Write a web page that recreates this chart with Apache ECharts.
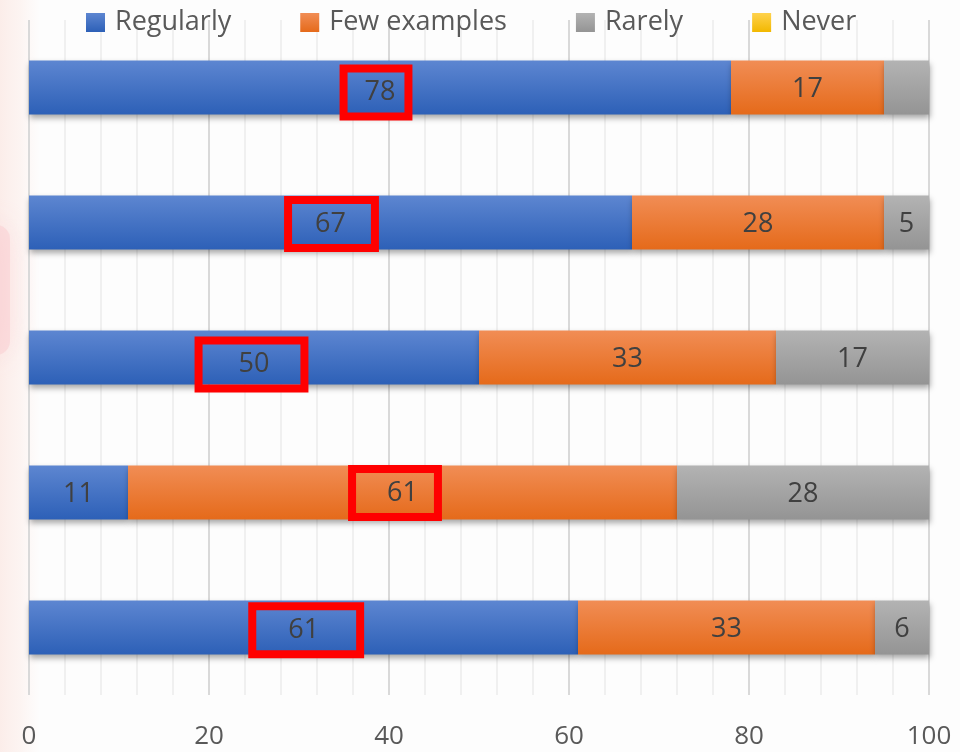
<!DOCTYPE html>
<html>
<head>
<meta charset="utf-8">
<style>
  html, body { margin: 0; padding: 0; background: #fdfdfd; }
  #chart { width: 960px; height: 752px; }
</style>
<script src="https://cdn.jsdelivr.net/npm/echarts@6/dist/echarts.min.js"></script>
</head>
<body>
<div id="chart"></div>
<script>
// Response shares per item, stacked to 100
const categories = ['Item 1', 'Item 2', 'Item 3', 'Item 4', 'Item 5'];
const seriesNames = ['Regularly', 'Few examples', 'Rarely', 'Never'];
const regularly = [78, 67, 50, 11, 61];
const fewExamples = [17, 28, 33, 61, 33];
const rarely = [5, 5, 17, 28, 6];
const never = [0, 0, 0, 0, 0];
const xMin = 0;
const xMax = 100;
const xStep = 20;

// Segments whose value label is left out
const unlabeled = [['Rarely', 0]];

// Segments whose value is boxed in red: [series, index]
const boxed = [['Regularly', 0], ['Regularly', 1], ['Regularly', 2], ['Few examples', 3], ['Regularly', 4]];
// Frame geometry for each boxed label (padding [t, r, b, l] and offset [x, y])
const boxFrames = [
  { padding: [7, 13, 13, 21], offset: [-4, 5] },
  { padding: [11, 29, 9, 27], offset: [1, 1.5] },
  { padding: [5, 35, 15, 40], offset: [-2.5, 7] },
  { padding: [12, 20, 8, 35], offset: [-7.5, 0.5] },
  { padding: [9, 41, 11, 36], offset: [2.7, 2.8] }
];

const FONT = '"Open Sans", "Noto Sans", sans-serif';

function grad(top, bottom) {
  return new echarts.graphic.LinearGradient(0, 0, 0, 1, [
    { offset: 0, color: top },
    { offset: 1, color: bottom }
  ]);
}

const colors = [
  grad('#5d86d1', '#2d60b7'),
  grad('#f18d55', '#e56a1a'),
  grad('#b3b3b3', '#949494'),
  grad('#ffd24d', '#f2b800')
];

const values = [regularly, fewExamples, rarely, never];

function buildData(name, vals) {
  return vals.map(function (v, i) {
    const item = { value: v };
    if (unlabeled.some(function (u) { return u[0] === name && u[1] === i; })) {
      item.label = { show: false };
    }
    const k = boxed.findIndex(function (b) { return b[0] === name && b[1] === i; });
    if (k >= 0) {
      item.label = {
        show: true,
        borderColor: '#ff0000',
        borderWidth: 8,
        padding: boxFrames[k].padding,
        offset: boxFrames[k].offset
      };
    }
    return item;
  });
}

const series = seriesNames.map(function (name, s) {
  return {
    name: name,
    type: 'bar',
    stack: 'total',
    barCategoryGap: '60%',
    data: buildData(name, values[s]),
    itemStyle: {
      color: colors[s],
      shadowColor: 'rgba(0,0,0,0.35)',
      shadowBlur: 6,
      shadowOffsetX: 1,
      shadowOffsetY: 3
    },
    label: {
      show: name !== 'Never',
      position: 'inside',
      offset: [0, 2],
      color: '#404040',
      fontFamily: FONT,
      fontSize: 27,
      lineHeight: 28
    },
    emphasis: { disabled: true }
  };
});

const chart = echarts.init(document.getElementById('chart'), null, { renderer: 'canvas' });

chart.setOption({
  backgroundColor: '#fdfdfd',
  animation: false,
  color: colors,
  graphic: [
    {
      type: 'rect',
      z: -10,
      silent: true,
      shape: { x: 0, y: 0, width: 40, height: 752 },
      style: {
        fill: new echarts.graphic.LinearGradient(1, 0, 0, 0, [
          { offset: 0, color: 'rgba(253,240,236,0)' },
          { offset: 0.5, color: 'rgba(252,238,234,0.6)' },
          { offset: 1, color: 'rgba(251,234,230,0.85)' }
        ])
      }
    },
    {
      type: 'rect',
      z: -9,
      silent: true,
      shape: { x: -24, y: 225, width: 34, height: 130, r: 14 },
      style: {
        fill: 'rgba(250,205,210,0.55)',
        shadowColor: 'rgba(250,205,210,0.9)',
        shadowBlur: 30
      }
    }
  ],
  legend: {
    top: 4,
    left: 81,
    icon: 'rect',
    itemWidth: 19,
    itemHeight: 19,
    itemGap: 69,
    data: seriesNames,
    textStyle: {
      color: '#595959',
      fontFamily: FONT,
      fontSize: 27,
      padding: [0, 0, 0, 5]
    }
  },
  grid: {
    left: 29,
    right: 31,
    top: 20,
    bottom: 57,
    containLabel: false
  },
  xAxis: {
    type: 'value',
    min: xMin,
    max: xMax,
    interval: xStep,
    axisLine: { show: false },
    axisTick: { show: false },
    axisLabel: {
      color: '#595959',
      fontFamily: FONT,
      fontSize: 26,
      margin: 29
    },
    splitLine: { show: true, lineStyle: { color: '#d9d9d9', width: 2 } },
    minorTick: { show: false, splitNumber: 5 },
    minorSplitLine: { show: true, lineStyle: { color: '#ebebeb', width: 1.5 } }
  },
  yAxis: {
    type: 'category',
    data: categories,
    inverse: true,
    axisLine: { show: false },
    axisTick: { show: false },
    axisLabel: { show: false },
    splitLine: { show: false }
  },
  series: series
});
</script>
</body>
</html>
